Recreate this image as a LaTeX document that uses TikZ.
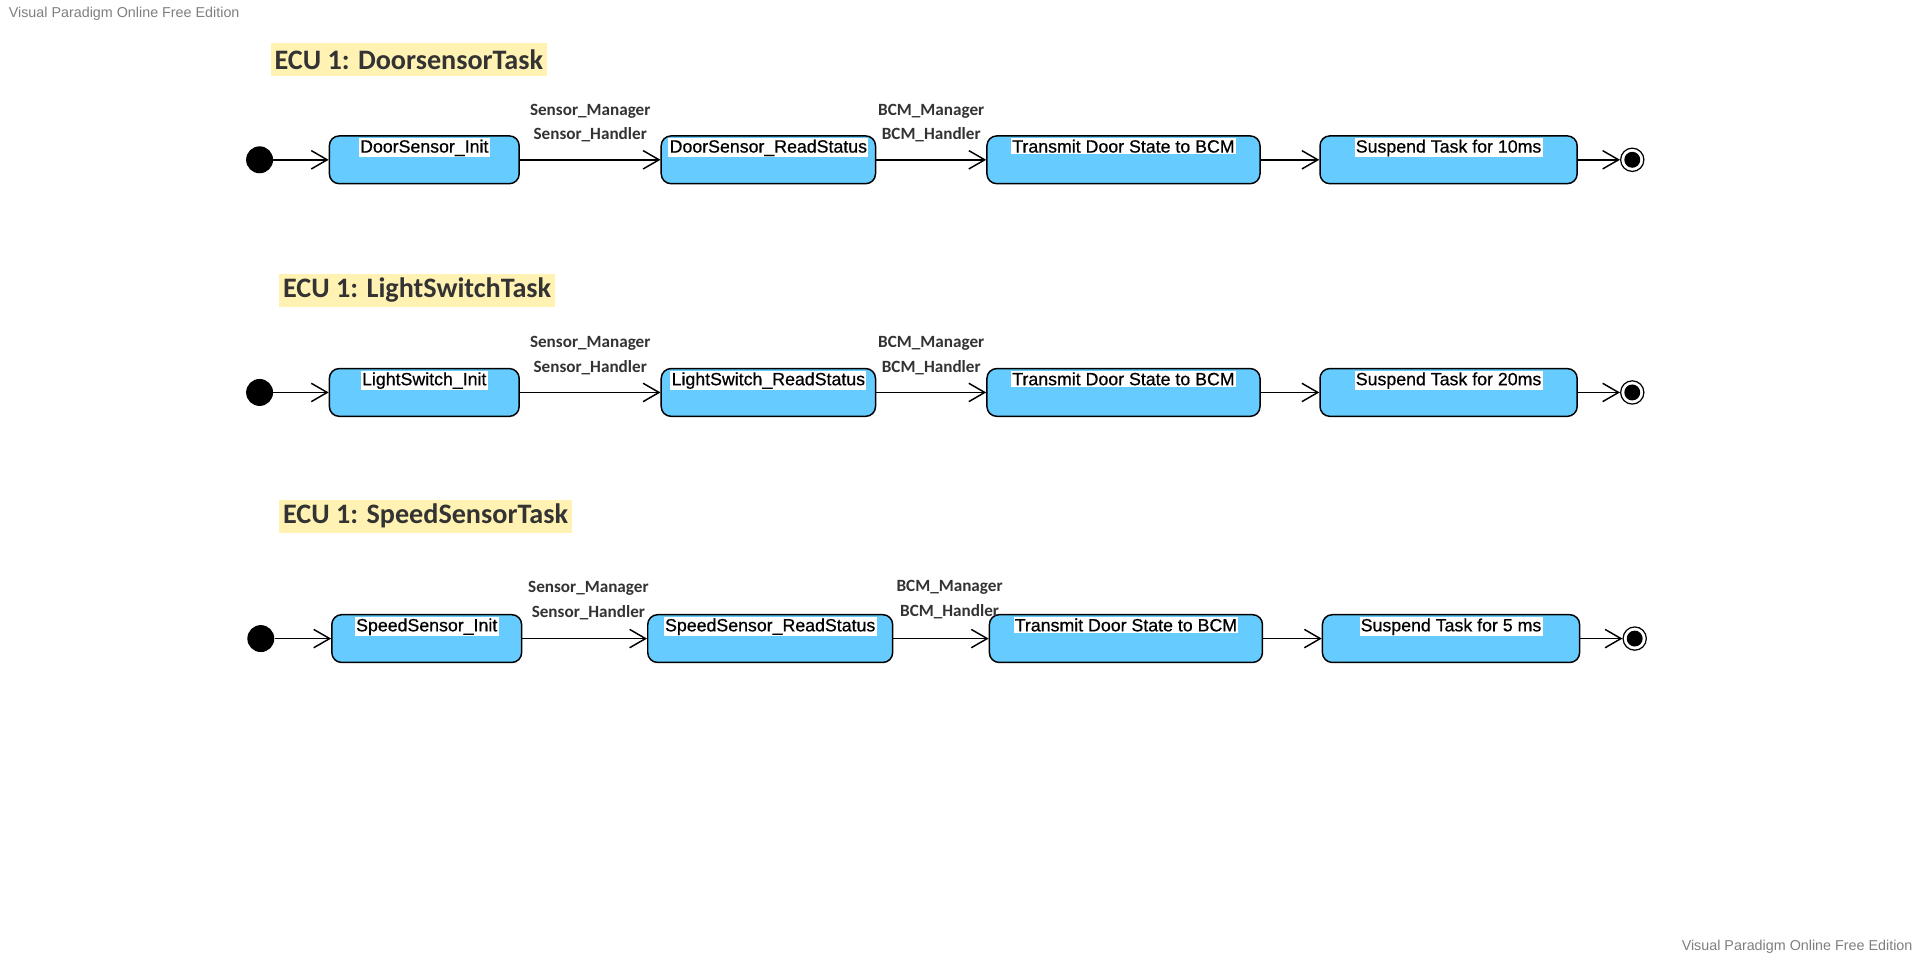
\documentclass[tikz,border=0pt]{standalone}
\usepackage{fontspec}
\setmainfont{Liberation Sans}
\newfontfamily\calib{Carlito}
\newfontfamily\boxfont[FakeBold=0.6]{Liberation Sans}
\usetikzlibrary{arrows.meta}
\definecolor{boxblue}{HTML}{66CCFF}
\definecolor{titlebg}{HTML}{FFF2B3}
\definecolor{txtdark}{HTML}{333333}
\definecolor{wmgray}{HTML}{7F7F7F}
\begin{document}
\begin{tikzpicture}[x=1pt,y=-1pt,
  state/.style={draw=black, line width=1.2pt, fill=boxblue, rounded corners=8pt,
    minimum height=39pt, inner sep=0pt},
  boxtxt/.style={anchor=north, yshift=-2.5pt, fill=white, inner xsep=1pt, inner ysep=1pt,
    font=\boxfont\fontsize{14.5}{16}\selectfont, text=black},
  tr/.style={draw=black, line width=1.2pt, -{Straight Barb[length=13pt,width=15pt]}},
  lbl/.style={midway, yshift=30pt, align=center, text=txtdark,
    font=\calib\bfseries\fontsize{14}{20}\selectfont},
  ttl/.style={anchor=west, fill=titlebg, text=txtdark, inner xsep=3pt, inner ysep=2pt,
    minimum height=27pt, font=\calib\bfseries\fontsize{23}{26}\selectfont},
  initst/.style={circle, fill=black, minimum size=22pt, inner sep=0pt},
  finalst/.style={circle, draw=black, fill=white, line width=1pt, minimum size=19pt, inner sep=0pt,
    path picture={\fill[black] (path picture bounding box.center) circle (6.5pt);}},
  wmk/.style={text=wmgray, font=\fontsize{11.7}{13}\selectfont, inner sep=0pt}
]
\fill[white] (0,0) rectangle (1568,784);
\useasboundingbox (0,0) rectangle (1568,784);

\node[wmk, anchor=west] (wm1) at (7,11) {Visual Paradigm Online Free Edition};
\node[wmk, anchor=east] (wm2) at (1562,773) {Visual Paradigm Online Free Edition};

% ---------- Row 1 ----------
\node[ttl] (t1) at (221,48.5) {ECU 1: DoorsensorTask};
\node[initst] (r1s) at (212,130.5) {};
\node[state, minimum width=155pt, label={[boxtxt]north:DoorSensor\_Init}] (r1b1) at (346.5,130.5) {};
\node[state, minimum width=175pt, label={[boxtxt]north:DoorSensor\_ReadStatus}] (r1b2) at (627.5,130.5) {};
\node[state, minimum width=223pt, label={[boxtxt]north:Transmit Door State to BCM}] (r1b3) at (917.5,130.5) {};
\node[state, minimum width=210pt, label={[boxtxt]north:Suspend Task for 10ms}] (r1b4) at (1183,130.5) {};
\node[finalst] (r1e) at (1333,130.5) {};
\draw[tr] (r1s) -- (r1b1);
\draw[tr] (r1b1) -- node[lbl] {Sensor\_Manager\\Sensor\_Handler} (r1b2);
\draw[tr] (r1b2) -- node[lbl] {BCM\_Manager\\BCM\_Handler} (r1b3);
\draw[tr] (r1b3) -- (r1b4);
\draw[tr] (r1b4) -- (r1e);

% ---------- Row 2 ----------
\node[ttl] (t2) at (228,237) {ECU 1: LightSwitchTask};
\node[initst] (r2s) at (212,320.5) {};
\node[state, minimum width=155pt, label={[boxtxt]north:LightSwitch\_Init}] (r2b1) at (346.5,320.5) {};
\node[state, minimum width=175pt, label={[boxtxt]north:LightSwitch\_ReadStatus}] (r2b2) at (627.5,320.5) {};
\node[state, minimum width=223pt, label={[boxtxt]north:Transmit Door State to BCM}] (r2b3) at (917.5,320.5) {};
\node[state, minimum width=210pt, label={[boxtxt]north:Suspend Task for 20ms}] (r2b4) at (1183,320.5) {};
\node[finalst] (r2e) at (1333,320.5) {};
\draw[tr] (r2s) -- (r2b1);
\draw[tr] (r2b1) -- node[lbl] {Sensor\_Manager\\Sensor\_Handler} (r2b2);
\draw[tr] (r2b2) -- node[lbl] {BCM\_Manager\\BCM\_Handler} (r2b3);
\draw[tr] (r2b3) -- (r2b4);
\draw[tr] (r2b4) -- (r2e);

% ---------- Row 3 ----------
\node[ttl] (t3) at (228,421.5) {ECU 1: SpeedSensorTask};
\node[initst] (r3s) at (213,521.5) {};
\node[state, minimum width=155pt, label={[boxtxt]north:SpeedSensor\_Init}] (r3b1) at (348.5,521.5) {};
\node[state, minimum width=200pt, label={[boxtxt]north:SpeedSensor\_ReadStatus}] (r3b2) at (629,521.5) {};
\node[state, minimum width=223pt, label={[boxtxt]north:Transmit Door State to BCM}] (r3b3) at (919.5,521.5) {};
\node[state, minimum width=210pt, label={[boxtxt]north:Suspend Task for 5 ms}] (r3b4) at (1185,521.5) {};
\node[finalst] (r3e) at (1335,521.5) {};
\draw[tr] (r3s) -- (r3b1);
\draw[tr] (r3b1) -- node[lbl, xshift=3pt, yshift=1pt] {Sensor\_Manager\\Sensor\_Handler} (r3b2);
\draw[tr] (r3b2) -- node[lbl, xshift=7pt, yshift=2pt] {BCM\_Manager\\BCM\_Handler} (r3b3);
\draw[tr] (r3b3) -- (r3b4);
\draw[tr] (r3b4) -- (r3e);
\end{tikzpicture}
\end{document}
